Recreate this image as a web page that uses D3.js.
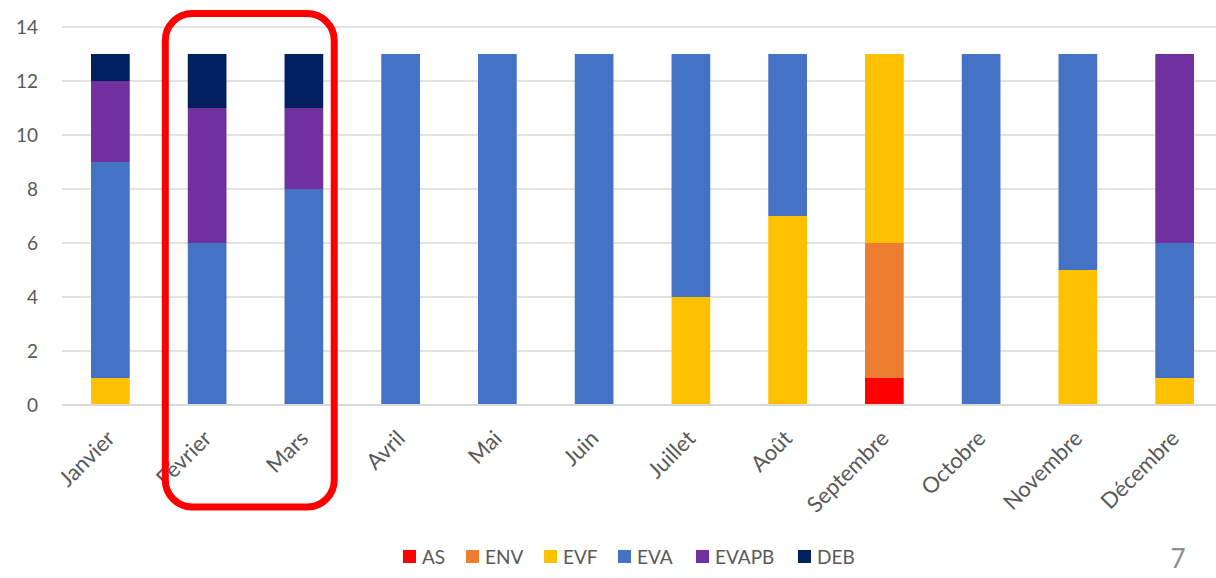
<!DOCTYPE html>
<html>
<head>
<meta charset="utf-8">
<script src="https://cdn.jsdelivr.net/npm/d3@7"></script>
<style>
  body { margin: 0; background: #fff; }
  svg { display: block; font-family: Lato, "Open Sans", sans-serif; }
</style>
</head>
<body>
<div id="chart"></div>
<script>
// months + stacked series values
const months = ['Janvier', 'Février', 'Mars', 'Avril', 'Mai', 'Juin', 'Juillet', 'Août', 'Septembre', 'Octobre', 'Novembre', 'Décembre'];
const seriesNames = ['AS', 'ENV', 'EVF', 'EVA', 'EVAPB', 'DEB'];
const seriesColors = ['#ff0000', '#ed7d31', '#ffc000', '#4472c4', '#7030a0', '#002060'];

const AS    = [0, 0, 0, 0, 0, 0, 0, 0, 1, 0, 0, 0];
const ENV   = [0, 0, 0, 0, 0, 0, 0, 0, 5, 0, 0, 0];
const EVF   = [1, 0, 0, 0, 0, 0, 4, 7, 7, 0, 5, 1];
const EVA   = [8, 6, 8, 13, 13, 13, 9, 6, 0, 13, 8, 5];
const EVAPB = [3, 5, 3, 0, 0, 0, 0, 0, 0, 0, 0, 7];
const DEB   = [1, 2, 2, 0, 0, 0, 0, 0, 0, 0, 0, 0];

const yTicks = [0, 2, 4, 6, 8, 10, 12, 14];
const highlighted = ['Février', 'Mars'];
const pageNumber = '7';

(function () {
  const W = 1216, H = 578;
  const margin = { top: 27, bottom: 173, left: 62 };
  const width = 1161;                 // band range runs a little past the right edge
  const height = H - margin.top - margin.bottom;
  const gridW = W - margin.left;

  const svg = d3.select('#chart').append('svg')
    .attr('width', W).attr('height', H);

  const g = svg.append('g')
    .attr('transform', `translate(${margin.left},${margin.top})`);

  /* ─── tidy ─────────────────────────────────────────────── */
  const cols = [AS, ENV, EVF, EVA, EVAPB, DEB];
  const table = months.map((m, i) => {
    const row = { month: m };
    seriesNames.forEach((s, j) => row[s] = cols[j][i]);
    return row;
  });
  const stacked = d3.stack().keys(seriesNames)(table);

  const x = d3.scaleBand()
    .domain(months)
    .range([0, width])
    .paddingInner(0.6)
    .paddingOuter(0.3);

  const y = d3.scaleLinear()
    .domain([0, 14])
    .range([height, 0]);

  const color = d3.scaleOrdinal().domain(seriesNames).range(seriesColors);

  /* ─── grid ─────────────────────────────────────────────── */
  g.append('g')
    .selectAll('line')
    .data(yTicks)
    .join('line')
      .attr('x1', 0).attr('x2', gridW)
      .attr('y1', d => y(d)).attr('y2', d => y(d))
      .attr('stroke', '#d9d9d9')
      .attr('stroke-width', 1.5);

  /* ─── y axis labels ────────────────────────────────────── */
  const yAxis = g.append('g')
    .call(d3.axisLeft(y).tickValues(yTicks).tickSize(0).tickPadding(24));
  yAxis.select('.domain').remove();
  yAxis.selectAll('text')
    .attr('fill', '#595959')
    .style('font-size', '19px')
    .style('font-family', 'Lato, sans-serif');

  /* ─── bars ─────────────────────────────────────────────── */
  g.append('g')
    .selectAll('g')
    .data(stacked)
    .join('g')
      .attr('fill', d => color(d.key))
    .selectAll('rect')
    .data(d => d.filter(v => v[1] - v[0] > 0))
    .join('rect')
      .attr('x', d => x(d.data.month))
      .attr('y', d => y(d[1]))
      .attr('width', x.bandwidth())
      .attr('height', d => y(d[0]) - y(d[1]));

  /* ─── baseline ─────────────────────────────────────────── */
  g.append('line')
    .attr('x1', 0).attr('x2', gridW)
    .attr('y1', y(0)).attr('y2', y(0))
    .attr('stroke', '#d9d9d9')
    .attr('stroke-width', 2);

  /* ─── x labels (rotated) ───────────────────────────────── */
  g.append('g')
    .selectAll('text')
    .data(months)
    .join('text')
      .attr('transform', d => `translate(${x(d) + x.bandwidth() / 2 - 5},${height + 24}) rotate(-45)`)
      .attr('text-anchor', 'end')
      .attr('dy', '0.7em')
      .attr('fill', '#595959')
      .style('font-size', '22px')
      .text(d => d);

  /* ─── highlight box around Février / Mars ─────────────── */
  const hx0 = x(highlighted[0]) - 22.5;
  const hx1 = x(highlighted[highlighted.length - 1]) + x.bandwidth() + 11;
  g.append('rect')
    .attr('x', hx0)
    .attr('y', y(14) - 13.5)
    .attr('width', hx1 - hx0)
    .attr('height', 493.5)
    .attr('rx', 27).attr('ry', 27)
    .attr('fill', 'none')
    .attr('stroke', '#ff0000')
    .attr('stroke-width', 7);

  /* ─── legend ───────────────────────────────────────────── */
  const legendX = [403, 466, 544, 618, 696, 798];
  const legend = svg.append('g')
    .selectAll('g')
    .data(seriesNames)
    .join('g')
      .attr('transform', (d, i) => `translate(${legendX[i]},557)`);
  legend.append('rect')
    .attr('x', 0).attr('y', -7)
    .attr('width', 13).attr('height', 13)
    .attr('fill', d => color(d));
  legend.append('text')
    .attr('x', 19)
    .attr('dy', '0.35em')
    .attr('fill', '#595959')
    .style('font-size', '19px')
    .text(d => d);

  /* ─── page number ──────────────────────────────────────── */
  svg.append('text')
    .attr('x', 1178).attr('y', 568)
    .attr('text-anchor', 'middle')
    .attr('fill', '#8c8c8c')
    .style('font-size', '26px')
    .text(pageNumber);
})();
</script>
</body>
</html>
